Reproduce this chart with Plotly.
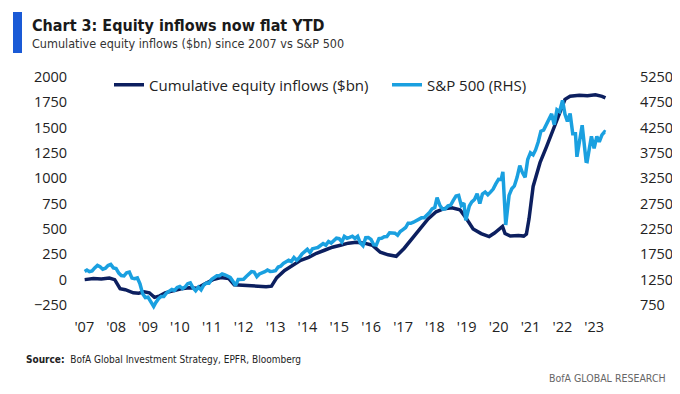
import plotly.graph_objects as go

# ---------------- data ----------------
flow_dates = ["2007-01-05","2007-04-15","2007-07-15","2007-10-15","2007-12-15",
              "2008-02-15","2008-04-15","2008-07-15","2008-09-15","2008-11-15",
              "2009-01-15","2009-03-15","2009-05-15","2009-07-15","2009-10-15",
              "2010-01-15","2010-04-15","2010-07-15","2010-10-15",
              "2011-01-15","2011-04-15","2011-07-15","2011-09-15","2011-12-15",
              "2012-03-15","2012-06-15","2012-09-15","2012-11-15",
              "2013-01-15","2013-04-15","2013-07-15","2013-10-15",
              "2014-01-15","2014-04-15","2014-07-15","2014-10-15",
              "2015-01-15","2015-04-15","2015-07-15","2015-10-15",
              "2016-01-15","2016-04-15","2016-07-15","2016-10-15",
              "2017-01-15","2017-04-15","2017-07-15","2017-10-15",
              "2018-01-15","2018-04-15","2018-07-15","2018-10-15","2018-12-15",
              "2019-03-15","2019-06-15","2019-09-15","2019-11-15",
              "2020-01-15","2020-02-15","2020-03-15","2020-05-15","2020-08-15","2020-10-15","2020-11-15","2020-12-15",
              "2021-01-31","2021-04-20","2021-07-05","2021-09-15","2021-12-01",
              "2022-01-31","2022-03-31","2022-07-15","2022-10-15",
              "2023-01-15","2023-04-01","2023-05-10"]
flow_values = [0, 10, 5, 15, 0,
               -90, -100, -130, -135, -120,
               -130, -175, -160, -130, -110,
               -90, -80, -85, -40,
               0, 20, 10, -50, -55,
               -60, -70, -70, -65,
               20, 90, 140, 190,
               220, 260, 290, 320,
               340, 360, 370, 360,
               340, 270, 245, 230,
               310, 410, 500, 600,
               670, 700, 710, 690, 620,
               500, 455, 425, 460,
               500, 525, 455, 430, 435, 430, 450, 600,
               920, 1155, 1315, 1480, 1650,
               1780, 1810, 1820, 1815,
               1825, 1810, 1795]

sp_dates = ["2007-01-05","2007-01-31","2007-02-28","2007-03-31","2007-04-30","2007-05-31","2007-06-30","2007-07-31","2007-08-31","2007-09-30","2007-10-31","2007-11-30","2007-12-31",
            "2008-01-31","2008-02-29","2008-03-31","2008-04-30","2008-05-31","2008-06-30","2008-07-31","2008-08-31","2008-09-30","2008-10-31","2008-11-30","2008-12-31",
            "2009-01-31","2009-02-28","2009-03-06","2009-03-31","2009-04-30","2009-05-31","2009-06-30","2009-07-31","2009-08-31","2009-09-30","2009-10-31","2009-11-30","2009-12-31",
            "2010-01-31","2010-02-28","2010-03-31","2010-04-30","2010-05-31","2010-06-30","2010-07-31","2010-08-31","2010-09-30","2010-10-31","2010-11-30","2010-12-31",
            "2011-01-31","2011-02-28","2011-03-31","2011-04-30","2011-05-31","2011-06-30","2011-07-31","2011-08-31","2011-09-30","2011-10-31","2011-11-30","2011-12-31",
            "2012-01-31","2012-02-29","2012-03-31","2012-04-30","2012-05-31","2012-06-30","2012-07-31","2012-08-31","2012-09-30","2012-10-31","2012-11-30","2012-12-31",
            "2013-01-31","2013-02-28","2013-03-31","2013-04-30","2013-05-31","2013-06-30","2013-07-31","2013-08-31","2013-09-30","2013-10-31","2013-11-30","2013-12-31",
            "2014-01-31","2014-02-28","2014-03-31","2014-04-30","2014-05-31","2014-06-30","2014-07-31","2014-08-31","2014-09-30","2014-10-31","2014-11-30","2014-12-31",
            "2015-01-31","2015-02-28","2015-03-31","2015-04-30","2015-05-31","2015-06-30","2015-07-31","2015-08-31","2015-09-30","2015-10-31","2015-11-30","2015-12-31",
            "2016-01-31","2016-02-29","2016-03-31","2016-04-30","2016-05-31","2016-06-30","2016-07-31","2016-08-31","2016-09-30","2016-10-31","2016-11-30","2016-12-31",
            "2017-01-31","2017-02-28","2017-03-31","2017-04-30","2017-05-31","2017-06-30","2017-07-31","2017-08-31","2017-09-30","2017-10-31","2017-11-30","2017-12-31",
            "2018-01-26","2018-02-28","2018-03-31","2018-04-30","2018-05-31","2018-06-30","2018-07-31","2018-08-31","2018-09-30","2018-10-31","2018-11-30","2018-12-21",
            "2019-01-31","2019-02-28","2019-03-31","2019-04-30","2019-05-31","2019-06-30","2019-07-31","2019-08-31","2019-09-30","2019-10-31","2019-11-30","2019-12-31",
            "2020-01-31","2020-02-19","2020-03-23","2020-04-30","2020-05-31","2020-06-30","2020-07-31","2020-08-31","2020-09-30","2020-10-31","2020-11-30","2020-12-31",
            "2021-01-31","2021-02-28","2021-03-31","2021-04-30","2021-05-31","2021-06-30","2021-07-31","2021-08-31","2021-09-30","2021-10-31","2021-11-30","2021-12-31",
            "2022-01-03","2022-01-31","2022-02-28","2022-03-31","2022-04-30","2022-05-31","2022-06-17","2022-07-31","2022-08-16","2022-09-30","2022-10-12","2022-11-30","2022-12-31",
            "2023-01-31","2023-02-28","2023-03-31","2023-04-30","2023-05-10"]
sp_values = [1410,1438,1407,1421,1482,1531,1503,1455,1474,1527,1549,1481,1468,
             1378,1331,1323,1386,1400,1280,1267,1283,1165,969,896,903,
             826,735,720,798,873,919,919,987,1021,1057,1036,1096,1115,
             1074,1104,1169,1187,1089,1031,1102,1049,1141,1183,1181,1258,
             1286,1327,1326,1364,1345,1321,1292,1219,1131,1253,1247,1258,
             1312,1366,1408,1398,1310,1362,1379,1407,1441,1412,1416,1426,
             1498,1515,1569,1598,1631,1606,1686,1633,1682,1757,1806,1848,
             1783,1859,1872,1884,1924,1960,1931,2003,1972,2018,2068,2059,
             1995,2105,2068,2086,2107,2063,2104,1972,1920,2079,2080,2044,
             1940,1932,2060,2065,2097,2099,2174,2171,2168,2126,2199,2239,
             2279,2364,2363,2384,2412,2423,2470,2472,2519,2575,2648,2674,
             2870,2714,2641,2648,2705,2718,2816,2902,2914,2712,2760,2420,
             2704,2784,2834,2946,2752,2942,2980,2926,2977,3038,3141,3231,
             3226,3380,2330,2912,3044,3100,3271,3500,3363,3270,3622,3756,
             3714,3811,3973,4181,4204,4298,4395,4523,4308,4605,4567,4766,
             4790,4516,4374,4530,4132,4132,3675,4130,4300,3586,3580,4080,3840,
             4077,3970,4109,4169,4160]

year_ticks = ["2007-01-01","2008-01-01","2009-01-01","2010-01-01","2011-01-01","2012-01-01",
              "2013-01-01","2014-01-01","2015-01-01","2016-01-01","2017-01-01","2018-01-01",
              "2019-01-01","2020-01-01","2021-01-01","2022-01-01","2023-01-01"]
year_labels = ["'07","'08","'09","'10","'11","'12","'13","'14","'15","'16","'17","'18",
               "'19","'20","'21","'22","'23"]
left_ticks = [-250, 0, 250, 500, 750, 1000, 1250, 1500, 1750, 2000]
right_ticks = [750, 1250, 1750, 2250, 2750, 3250, 3750, 4250, 4750, 5250]

NAVY = "#0c1f5f"
LIGHT = "#1aa0e0"
OFF = 8  # default page margin of the html body
W, H = 680 - OFF, 394 - OFF
ML, MT = 79 - OFF, 72 - OFF
MR = W - (610 - OFF)
MB = H - (310 - OFF)
PW, PH = W - ML - MR, H - MT - MB

def px(x):  # screen pixel -> paper
    return (x - OFF - ML) / PW

def py(y):
    return (H - MB - (y - OFF)) / PH

TICKFONT = dict(family="Open Sans, Noto Sans, sans-serif", size=14.5, color="#222222")
LEGFONT = dict(family="Open Sans, Noto Sans, sans-serif", size=15, color="#222222")
NARROW = "Liberation Sans Narrow, DejaVu Sans Condensed, Arial Narrow, sans-serif"

fig = go.Figure()
fig.add_trace(go.Scatter(x=sp_dates, y=sp_values, name="S&P 500 (RHS)", mode="lines",
                         line=dict(color=LIGHT, width=3.5), yaxis="y2", legend="legend2"))
fig.add_trace(go.Scatter(x=flow_dates, y=flow_values, name="Cumulative equity inflows ($bn)",
                         mode="lines", line=dict(color=NAVY, width=3.5), legend="legend"))

fig.update_layout(
    width=W, height=H,
    margin=dict(l=ML, r=MR, t=MT, b=MB, autoexpand=False),
    paper_bgcolor="white", plot_bgcolor="white",
    showlegend=True,
    legend=dict(orientation="h", x=px(109), y=py(85), xanchor="left", yanchor="middle",
                font=LEGFONT, bgcolor="rgba(0,0,0,0)"),
    legend2=dict(orientation="h", x=px(387), y=py(85), xanchor="left", yanchor="middle",
                 font=LEGFONT, bgcolor="rgba(0,0,0,0)"),
    xaxis=dict(type="date", range=["2006-11-01", "2023-07-01"], tickvals=year_ticks,
               ticktext=year_labels, showgrid=False, zeroline=False, showline=False,
               ticks="outside", ticklen=4, tickcolor="rgba(0,0,0,0)", tickfont=TICKFONT),
    yaxis=dict(range=[-300, 2050], tickvals=left_ticks, showgrid=False, zeroline=False,
               showline=False, ticks="outside", ticklen=8, tickcolor="rgba(0,0,0,0)",
               tickfont=TICKFONT),
    yaxis2=dict(range=[650, 5350], tickvals=right_ticks, overlaying="y", side="right",
                showgrid=False, zeroline=False, showline=False, ticks="outside",
                ticklen=26, tickcolor="rgba(0,0,0,0)", tickfont=TICKFONT),
)

fig.add_shape(type="rect", xref="paper", yref="paper", x0=px(13), x1=px(22), y0=py(53), y1=py(12),
              fillcolor="#1a5ad6", line=dict(width=0), layer="above")

fig.add_annotation(text="<b>Chart 3: Equity inflows now flat YTD</b>", xref="paper", yref="paper",
                   x=px(30), y=py(25), xanchor="left", yanchor="middle", showarrow=False,
                   font=dict(family=NARROW, size=16, color="#1a1a1a"))
fig.add_annotation(text="Cumulative equity inflows ($bn) since 2007 vs S&P 500", xref="paper", yref="paper",
                   x=px(30), y=py(44), xanchor="left", yanchor="middle", showarrow=False,
                   font=dict(family=NARROW, size=12.5, color="#333333"))
fig.add_annotation(text="<b>Source:</b>  BofA Global Investment Strategy, EPFR, Bloomberg", xref="paper", yref="paper",
                   x=px(24), y=py(359), xanchor="left", yanchor="middle", showarrow=False,
                   font=dict(family=NARROW, size=10, color="#222222"))
fig.add_annotation(text="BofA GLOBAL RESEARCH", xref="paper", yref="paper",
                   x=px(668), y=py(378), xanchor="right", yanchor="middle", showarrow=False,
                   font=dict(family=NARROW, size=10.5, color="#666666"))

fig.write_html("out.html")
